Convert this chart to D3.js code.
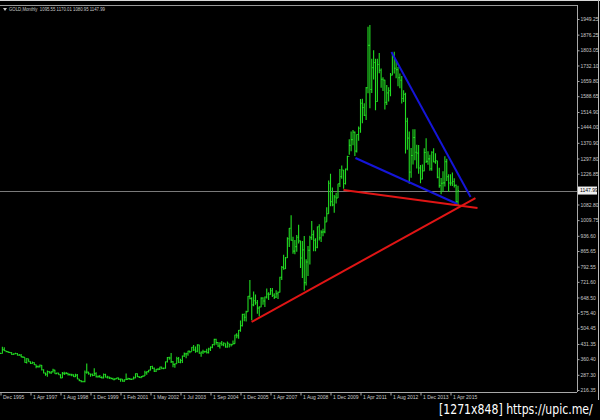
<!DOCTYPE html>
<html><head><meta charset="utf-8">
<script src="https://cdn.jsdelivr.net/npm/d3@7"></script>
<style>html,body{margin:0;padding:0;background:#000;overflow:hidden}</style>
</head><body><svg id="c" width="600" height="420"></svg>
<script>
// Monthly bars (Dec 1995 .. Aug 2015 as plotted), high / low / close
const highs = [390,
418,416,400,398,394,391,388,390,389,384,384,374,
368,366,360,350,350,346,336,331,336,333,313,298,
307,305,304,316,311,298,297,290,301,302,300,297,
293,292,290,292,291,268,263,260,308,340,302,292,
293,318,299,284,286,281,293,292,283,279,275,274,272,274,
273,270,268,266,293,274,272,270,279,294,294,280,281,
285,306,304,310,328,330,322,315,318,325,325,322,350,
371,372,389,352,340,372,371,362,377,392,390,400,399,417,
427,420,430,428,396,404,400,409,414,420,430,456,456,
440,439,445,439,434,443,431,432,448,475,482,497,541,
572,574,586,655,730,649,677,663,637,608,650,649,
653,690,673,693,693,668,682,677,745,795,848,838,
930,973,1033,932,917,940,988,914,912,936,827,889,
937,1006,962,925,980,990,963,970,1025,1070,1195,1227,
1162,1127,1138,1180,1249,1265,1244,1251,1310,1388,1424,1431,
1424,1411,1447,1575,1577,1556,1632,1913,1921,1764,1803,1764,
1763,1791,1718,1677,1666,1641,1630,1697,1787,1796,1755,1725,
1695,1683,1616,1605,1488,1424,1347,1434,1434,1362,1361,1267,
1270,1345,1392,1331,1315,1332,1345,1322,1287,1255,1206,1238,
1308,1296,1224,1224,1232,1205,1176,1170];
const lows = [384,
387,398,393,390,389,380,381,385,377,377,369,366,
344,340,348,338,339,333,318,320,321,308,294,283,
278,294,291,298,292,290,287,271,272,286,290,284,
284,281,277,277,267,257,252,252,253,292,287,278,
280,282,275,274,273,270,270,275,270,268,266,263,263,266,
263,255,255,254,263,264,263,263,265,271,277,272,271,
277,282,288,298,307,315,301,301,309,310,313,313,316,
345,358,343,323,320,339,342,341,342,370,365,376,388,397,
399,390,393,386,372,385,390,387,387,398,411,424,428,
417,410,423,421,414,414,415,420,429,432,458,456,489,
513,538,536,582,640,542,608,614,573,560,603,615,
604,644,637,661,651,641,646,641,672,730,778,781,
833,884,914,853,851,862,901,786,740,681,705,749,
802,917,865,865,879,915,908,935,949,1002,1040,1075,
1075,1044,1087,1113,1164,1203,1156,1176,1242,1315,1331,1360,
1309,1326,1381,1418,1462,1496,1478,1603,1532,1604,1667,1523,
1563,1696,1628,1613,1527,1547,1564,1588,1687,1695,1673,1635,
1626,1555,1562,1321,1338,1180,1208,1270,1290,1251,1227,1182,
1200,1238,1277,1268,1240,1240,1280,1273,1205,1161,1131,1142,
1167,1192,1142,1170,1169,1162,1077,1081];
const closes = [387,
405,400,396,392,391,382,385,387,379,379,371,369,
345,362,349,340,345,334,326,325,332,311,296,290,
303,297,301,309,293,296,288,273,294,292,294,288,
287,287,279,286,268,261,255,255,299,300,292,290,
284,293,278,280,275,273,289,276,277,273,270,264,269,273,
266,267,258,264,266,270,266,268,273,293,279,275,279,
282,297,302,309,326,318,304,313,314,324,317,318,348,
368,366,348,336,339,363,346,354,375,385,386,398,395,416,
403,397,427,388,394,395,396,391,408,416,429,453,438,
422,435,428,435,417,435,430,428,433,473,470,495,517,
569,556,582,654,643,614,633,624,599,604,646,632,
651,665,663,680,659,650,666,673,743,789,783,834,
923,972,916,865,886,930,913,833,871,718,814,869,
928,942,916,883,979,927,954,955,1001,1040,1182,1096,
1081,1118,1113,1180,1213,1244,1181,1248,1307,1359,1386,1421,
1332,1410,1439,1556,1536,1500,1628,1826,1620,1722,1746,1564,
1737,1710,1668,1664,1560,1604,1614,1687,1773,1719,1713,1675,
1663,1578,1597,1472,1393,1234,1312,1396,1327,1323,1253,1202,
1240,1326,1284,1296,1250,1327,1282,1287,1210,1171,1182,1184,
1283,1213,1183,1183,1190,1172,1095,1148];

const dateLabels = ["Dec 1995","1 Apr 1997","1 Aug 1998","1 Dec 1999","1 Feb 2001","1 May 2002",
  "1 Jul 2003","1 Sep 2004","1 Dec 2005","1 Apr 2007","1 Aug 2008","1 Dec 2009",
  "1 Apr 2011","1 Aug 2012","1 Dec 2013","1 Apr 2015"];
const priceTicks = [1949.25,1876.25,1803.05,1732.10,1659.80,1588.65,1514.90,1444.00,1370.90,
  1297.80,1226.85,1082.80,1009.75,936.60,865.65,792.55,721.60,648.50,575.40,504.45,
  431.35,360.40,287.30,216.35];
const lastPrice = 1147.99;
const titleText = "GOLD,Monthly  1095.55 1170.01 1080.95 1147.99";
// trend lines: [barStart, priceStart, barEnd, priceEnd]
const blueLines = [[208.5,1795,250.7,1118],[189.3,1300,243.7,1085]];
const redLines = [[182.9,1150,254.4,1066],[133.9,534,253.3,1113]];
const watermark = "[1271x848] https://upic.me/";

const svg = d3.select("#c");
const W = 600, H = 420, plotR = 577, plotB = 392, plotT = 5;
svg.append("rect").attr("width",W).attr("height",H).attr("fill","#000");

const x = d3.scaleLinear().domain([0,320]).range([0.5,600.5]);
const y = d3.scaleLinear().domain([216.35,1949.25]).range([390,19]);

const g = svg.append("g");
// frame
svg.append("line").attr("x1",0).attr("x2",W).attr("y1",0.5).attr("y2",0.5).attr("stroke","#d8d8d8").attr("stroke-width",1);
svg.append("line").attr("x1",0).attr("x2",plotR).attr("y1",plotT+0.5).attr("y2",plotT+0.5).attr("stroke","#9a9a9a");
svg.append("line").attr("x1",598.5).attr("x2",598.5).attr("y1",0).attr("y2",400).attr("stroke","#bdbdbd");

// current price line
g.append("line").attr("x1",0).attr("x2",plotR).attr("y1",Math.round(y(lastPrice))+0.5).attr("y2",Math.round(y(lastPrice))+0.5)
  .attr("stroke","#7a7a7a").attr("stroke-width",1);

// bars
const bars = g.append("g").attr("stroke","#22dd22").attr("stroke-width",1.1).attr("fill","none");
closes.forEach((c,i)=>{
  const o = i>0 ? closes[i-1] : c;
  const xi = x(i);
  bars.append("path").attr("d",
    `M${xi},${y(highs[i])}V${y(lows[i])}M${xi-0.9},${y(o)}H${xi}M${xi},${y(c)}H${xi+0.9}`);
});

// trend lines
function tl(arr,color){
  arr.forEach(l=>{
    g.append("line").attr("x1",x(l[0])).attr("y1",y(l[1])).attr("x2",x(l[2])).attr("y2",y(l[3]))
      .attr("stroke",color).attr("stroke-width",2);
  });
}
tl(blueLines,"#1515d8");
tl(redLines,"#e01515");

// right axis
const ya = svg.append("g").attr("transform",`translate(${plotR+0.5},0)`)
  .call(d3.axisRight(y).tickValues(priceTicks).tickSize(2).tickPadding(1).tickFormat(d3.format(".2f")));
ya.select(".domain").attr("stroke","#a8a8a8").attr("d",`M0,${plotT}V${plotB}`);
ya.selectAll(".tick line").attr("stroke","#a8a8a8");
ya.selectAll("text").attr("fill","#c8c8c8").style("font-family","Liberation Sans, Arial, sans-serif").style("font-size","5px");

// current price box
const yp = y(lastPrice);
svg.append("rect").attr("x",578).attr("y",yp-4).attr("width",19).attr("height",8).attr("fill","#f0f0f0");
svg.append("text").attr("x",580).attr("y",yp).attr("dy","0.35em").text(d3.format(".2f")(lastPrice))
  .attr("fill","#000").style("font-family","Liberation Sans, Arial, sans-serif").style("font-size","5px");

// bottom axis
const tickIdx = dateLabels.map((d,i)=>i*16);
const xa = svg.append("g").attr("transform",`translate(0,${plotB+0.5})`)
  .call(d3.axisBottom(x).tickValues(tickIdx).tickSize(3).tickFormat((d,i)=>dateLabels[i]));
xa.select(".domain").attr("stroke","#a8a8a8").attr("d",`M0,0H${plotR}`);
xa.selectAll(".tick line").attr("stroke","#a8a8a8");
xa.selectAll("text").attr("fill","#c8c8c8").attr("text-anchor","start").attr("x",2).attr("y",3).attr("dy","0.71em")
  .style("font-family","Liberation Sans, Arial, sans-serif").style("font-size","5px");

// title
svg.append("path").attr("d","M3,8L7,8L5,11Z").attr("fill","#c8c8c8");
svg.append("text").attr("x",9).attr("y",11).text(titleText).attr("fill","#c8c8c8")
  .attr("textLength",96).attr("lengthAdjust","spacingAndGlyphs")
  .style("font-family","Liberation Sans, Arial, sans-serif").style("font-size","5px").attr("xml:space","preserve");

// watermark (horizontally condensed via transform so its box is its true extent)
const wm = svg.append("g");
const wt = wm.append("text").attr("x",0).attr("y",0).text(watermark).attr("fill","#ffffff")
  .style("font-family","DejaVu Sans, sans-serif").style("font-size","14px");
const natural = wt.node().getComputedTextLength() || 220;
wm.attr("transform",`translate(439,414) scale(${154/natural},1)`);
</script></body></html>
